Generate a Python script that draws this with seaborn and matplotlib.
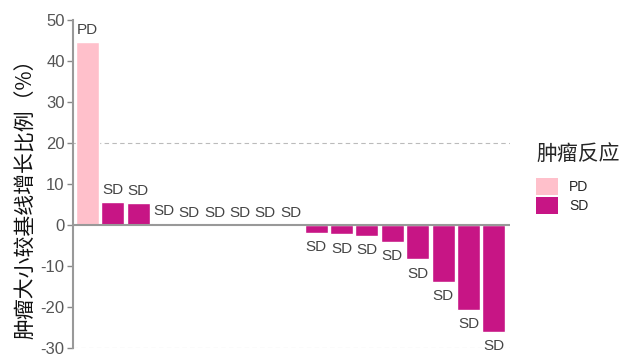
import matplotlib
matplotlib.use("Agg")
import matplotlib.pyplot as plt
import seaborn as sns
import pandas as pd
from matplotlib.patches import Patch

patients = [f"P{i+1}" for i in range(17)]
responses = ["PD"] + ["SD"] * 16
changes = [44.6, 5.6, 5.3, 0.5, 0, 0, 0, 0, 0,
           -1.9, -2.3, -2.7, -4.1, -8.4, -13.9, -20.7, -26.0]
yticks = [50, 40, 30, 20, 10, 0, -10, -20, -30]
palette = {"PD": "#FFC0CB", "SD": "#C71585"}

df = pd.DataFrame({"patient": patients, "resp": responses, "chg": changes})

sns.set_theme(style="white")
plt.rcParams["font.family"] = ["Liberation Sans", "Noto Sans CJK SC", "DejaVu Sans"]

fig = plt.figure(figsize=(6.25, 3.63), dpi=100)
ax = fig.add_axes([0.1168, 0.0413, 0.699, 0.904])

sns.barplot(data=df, x="patient", y="chg", hue="resp", palette=palette,
            dodge=False, width=0.9, order=patients, ax=ax, legend=False,
            saturation=1)

ax.set_xlim(-0.57, 16.63)
ax.set_ylim(-30, 50)
ax.set_yticks(yticks)
ax.set_yticklabels([str(t) for t in yticks], color="#555555", fontsize=12)
ax.tick_params(axis="y", length=4, width=1, color="#888888", pad=2, left=True)
ax.set_xticks([])
ax.set_xlabel("")
ax.set_ylabel("肿瘤大小较基线增长比例（%）", family=["Noto Sans CJK SC"],
              fontsize=15, color="#111111", labelpad=2)
ax.yaxis.set_label_coords(-0.082, 0.47)
for s in ["top", "right", "bottom"]:
    ax.spines[s].set_visible(False)
ax.spines["left"].set_color("#999999")
ax.spines["left"].set_linewidth(1.5)

for yv in [20, -30]:
    ax.axhline(yv, color="#BBBBBB", lw=0.8, ls=(0, (4, 3)), zorder=0)
ax.axhline(0, color="#999999", lw=1.5, zorder=3)

for i, (r, v) in enumerate(zip(responses, changes)):
    if v >= 0:
        ax.text(i, v + 1.2, r, ha="center", va="bottom", fontsize=11, color="#444444")
    else:
        ax.text(i, v - 1.8, r, ha="center", va="top", fontsize=11, color="#444444")

handles = [Patch(facecolor=palette[k], edgecolor="none", label=k) for k in ["PD", "SD"]]
leg = fig.legend(handles=handles, title="肿瘤反应", loc="upper left",
                 bbox_to_anchor=(0.838, 0.64), frameon=False, fontsize=10,
                 handlelength=1.58, handleheight=1.58, handletextpad=0.8,
                 labelspacing=0.1)
leg.get_title().set_family(["Noto Sans CJK SC"])
leg.get_title().set_fontsize(15)
leg._legend_box.align = "left"
leg._legend_box.sep = 9

fig.savefig("out.png", dpi=100)
